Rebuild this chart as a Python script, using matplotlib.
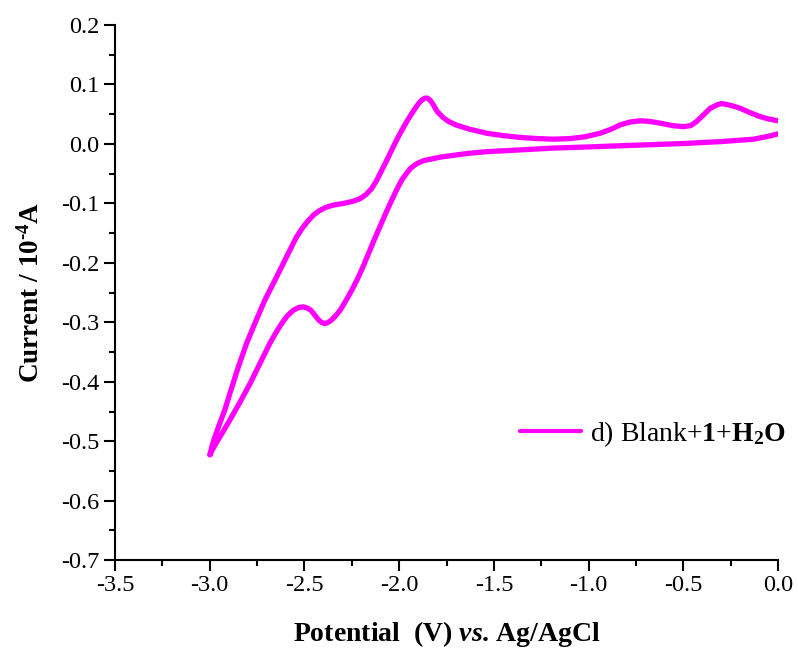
import matplotlib
matplotlib.use("Agg")
import matplotlib.pyplot as plt
from matplotlib.ticker import MultipleLocator

# cyclic voltammogram
# cathodic sweep: 0.0 V -> -3.0 V
cathodic_v = [0.0, -0.05, -0.13, -0.3, -0.48, -0.65, -0.83, -1.0, -1.19, -1.36,
              -1.54, -1.64, -1.71, -1.78, -1.84, -1.87, -1.90, -1.92, -1.94, -1.96,
              -1.985, -2.01, -2.04, -2.07, -2.10, -2.13, -2.16, -2.19, -2.22, -2.25,
              -2.28, -2.31, -2.335, -2.36, -2.38, -2.395, -2.41, -2.425, -2.445, -2.465,
              -2.485, -2.506, -2.53, -2.56, -2.593, -2.62, -2.65, -2.682, -2.73, -2.787,
              -2.84, -2.893, -2.93, -2.96, -2.982, -3.0]
cathodic_i = [0.017, 0.013, 0.008, 0.004, 0.001, -0.001, -0.003, -0.005, -0.007, -0.010,
              -0.013, -0.016, -0.019, -0.022, -0.026, -0.028, -0.032, -0.036, -0.041, -0.049,
              -0.060, -0.075, -0.095, -0.116, -0.138, -0.160, -0.183, -0.206, -0.227, -0.246,
              -0.263, -0.279, -0.289, -0.297, -0.301, -0.302, -0.300, -0.296, -0.288, -0.280,
              -0.276, -0.274, -0.275, -0.280, -0.290, -0.302, -0.317, -0.335, -0.366, -0.403,
              -0.434, -0.464, -0.484, -0.500, -0.512, -0.523]

# anodic sweep: -3.0 V -> 0.0 V
anodic_v = [-2.998, -2.989, -2.972, -2.954, -2.92, -2.893, -2.85, -2.805, -2.75, -2.708,
            -2.646, -2.59, -2.541, -2.51, -2.48, -2.45, -2.42, -2.39, -2.35, -2.295,
            -2.25, -2.206, -2.175, -2.145, -2.12, -2.09, -2.06, -2.03, -2.00, -1.97,
            -1.94, -1.915, -1.895, -1.88, -1.865, -1.85, -1.835, -1.82, -1.80, -1.77,
            -1.74, -1.70, -1.63, -1.538, -1.45, -1.362, -1.27, -1.186, -1.10, -1.02,
            -0.939, -0.88, -0.834, -0.78, -0.728, -0.68, -0.622, -0.56, -0.499, -0.46,
            -0.429, -0.39, -0.358, -0.32, -0.297, -0.25, -0.2, -0.15, -0.095, -0.05,
            0.0]
anodic_i = [-0.523, -0.509, -0.492, -0.476, -0.447, -0.419, -0.376, -0.335, -0.293, -0.262,
            -0.223, -0.187, -0.156, -0.141, -0.129, -0.119, -0.112, -0.107, -0.103, -0.100,
            -0.097, -0.092, -0.085, -0.075, -0.062, -0.043, -0.024, -0.004, 0.015, 0.032,
            0.048, 0.060, 0.069, 0.074, 0.077, 0.077, 0.073, 0.066, 0.055, 0.045,
            0.038, 0.032, 0.025, 0.018, 0.014, 0.011, 0.009, 0.008, 0.009, 0.012,
            0.018, 0.025, 0.032, 0.037, 0.039, 0.038, 0.035, 0.031, 0.029, 0.031,
            0.038, 0.050, 0.060, 0.066, 0.068, 0.065, 0.060, 0.053, 0.046, 0.042,
            0.039]

LABEL = r"d) Blank+$\mathbf{1}$+$\mathbf{H}_{\mathbf{2}}\mathbf{O}$"
COLOR = "#ff00ff"


def setup_fonts():
    plt.rcParams["font.family"] = ["Liberation Serif", "DejaVu Serif"]
    plt.rcParams["mathtext.fontset"] = "custom"
    plt.rcParams["mathtext.rm"] = "Liberation Serif"
    plt.rcParams["mathtext.bf"] = "Liberation Serif:bold"
    # italic in labels is bold italic ("vs.")
    plt.rcParams["mathtext.it"] = "Liberation Serif:italic:bold"


def draw_cv(filepath: str) -> None:
    fig = plt.figure(figsize=(7.98, 6.59), dpi=100)
    ax = fig.add_axes([0.1441, 0.150, 0.8309, 0.812])

    v = cathodic_v + anodic_v
    i = cathodic_i + anodic_i
    ax.plot(v, i, color=COLOR, lw=3.8, label=LABEL,
            solid_capstyle="round", solid_joinstyle="round")

    ax.set_xlim(-3.5, 0.0)
    ax.set_ylim(-0.7, 0.2)
    ax.xaxis.set_major_locator(MultipleLocator(0.5))
    ax.xaxis.set_minor_locator(MultipleLocator(0.25))
    ax.yaxis.set_major_locator(MultipleLocator(0.1))
    ax.yaxis.set_minor_locator(MultipleLocator(0.05))
    ax.xaxis.set_major_formatter(plt.FuncFormatter(lambda x, p: f"{x:.1f}"))
    ax.yaxis.set_major_formatter(plt.FuncFormatter(lambda y, p: f"{y:.1f}"))

    for side in ["top", "right"]:
        ax.spines[side].set_visible(False)
    for side in ["left", "bottom"]:
        ax.spines[side].set_linewidth(1.5)
    ax.tick_params(which="major", direction="out", length=8, width=1.5,
                   labelsize=17.5, pad=3)
    ax.tick_params(which="minor", direction="out", length=4.5, width=1.5)

    ax.set_xlabel(r"Potential  (V) $vs$. Ag/AgCl", fontsize=20,
                  fontweight="bold", labelpad=16)
    # hyphen (U+2010) in the exponent, like the original, not a math minus
    ax.set_ylabel("Current / 10$^{\\mathbf{\u20104}}$A", fontsize=19.5,
                  fontweight="bold", labelpad=12)

    leg = ax.legend(loc="center left", bbox_to_anchor=(0.611, 0.2355),
                    frameon=False, fontsize=20, handlelength=2.2,
                    handletextpad=0.3, borderpad=0, borderaxespad=0)
    leg.get_lines()[0].set_linewidth(3)

    plt.savefig(filepath, dpi=100)
    print(f"Drawing saved to {filepath}")


if __name__ == "__main__":
    setup_fonts()
    draw_cv("out.png")
